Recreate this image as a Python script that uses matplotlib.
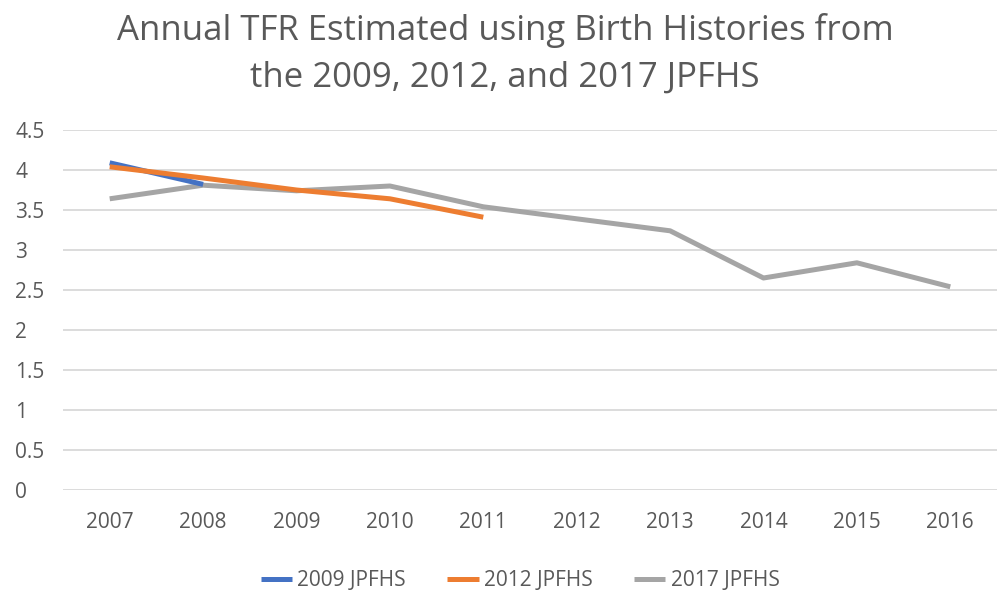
import matplotlib
matplotlib.use("Agg")
import matplotlib.pyplot as plt

years = [2007, 2008, 2009, 2010, 2011, 2012, 2013, 2014, 2015, 2016]
year_labels = [str(y) for y in years]
tfr_2009 = [4.09, 3.82]
tfr_2012 = [4.04, 3.90, 3.75, 3.64, 3.41]
tfr_2017 = [3.64, 3.81, 3.74, 3.80, 3.54, 3.39, 3.24, 2.65, 2.84, 2.54]
series_names = ["2009 JPFHS", "2012 JPFHS", "2017 JPFHS"]
yticks = [0, 0.5, 1, 1.5, 2, 2.5, 3, 3.5, 4, 4.5]
ytick_labels = ["0", "0.5", "1", "1.5", "2", "2.5", "3", "3.5", "4", "4.5"]

plt.rcParams['font.family'] = ['Open Sans', 'DejaVu Sans']
txt = '#595959'

fig = plt.figure(figsize=(10, 6.03), dpi=100)
ax = fig.add_axes([0.063, 1 - 490/603, 0.934, 360/603])

idx = list(range(len(years)))
ax.plot(idx[:len(tfr_2009)], tfr_2009, color='#4472C4', lw=3.6, solid_capstyle='butt', label=series_names[0], zorder=3)
ax.plot(idx[:len(tfr_2012)], tfr_2012, color='#ED7D31', lw=3.6, solid_capstyle='butt', label=series_names[1], zorder=4)
ax.plot(idx, tfr_2017, color='#A5A5A5', lw=3.6, solid_capstyle='butt', label=series_names[2], zorder=2)

ax.set_xlim(-0.5, len(years) - 0.5)
ax.set_ylim(0, 4.5)
ax.set_xticks(idx)
ax.set_xticklabels(year_labels, fontsize=15, color=txt)
ax.set_yticks(yticks)
ax.set_yticklabels(ytick_labels, fontsize=15, color=txt)
ax.tick_params(axis='x', length=0, pad=16)
ax.tick_params(axis='y', length=0, pad=34.5)
for lab in ax.get_yticklabels():
    lab.set_horizontalalignment('left')
for s in ax.spines.values():
    s.set_visible(False)
ax.grid(axis='y', color='#d9d9d9', lw=1.3)
ax.set_axisbelow(True)

fig.text(0.505, 1 - 31/603, "Annual TFR Estimated using Birth Histories from", ha='center', va='center', fontsize=25, color=txt)
fig.text(0.505, 1 - 78/603, "the 2009, 2012, and 2017 JPFHS", ha='center', va='center', fontsize=25, color=txt)

leg = fig.legend(loc='center', bbox_to_anchor=(0.52, 1 - 581/603), ncol=3, frameon=False,
                 fontsize=15, handlelength=1.5, columnspacing=2.0, handletextpad=0.25)
for t in leg.get_texts():
    t.set_color(txt)

fig.savefig("out.png", dpi=100, facecolor='white')
